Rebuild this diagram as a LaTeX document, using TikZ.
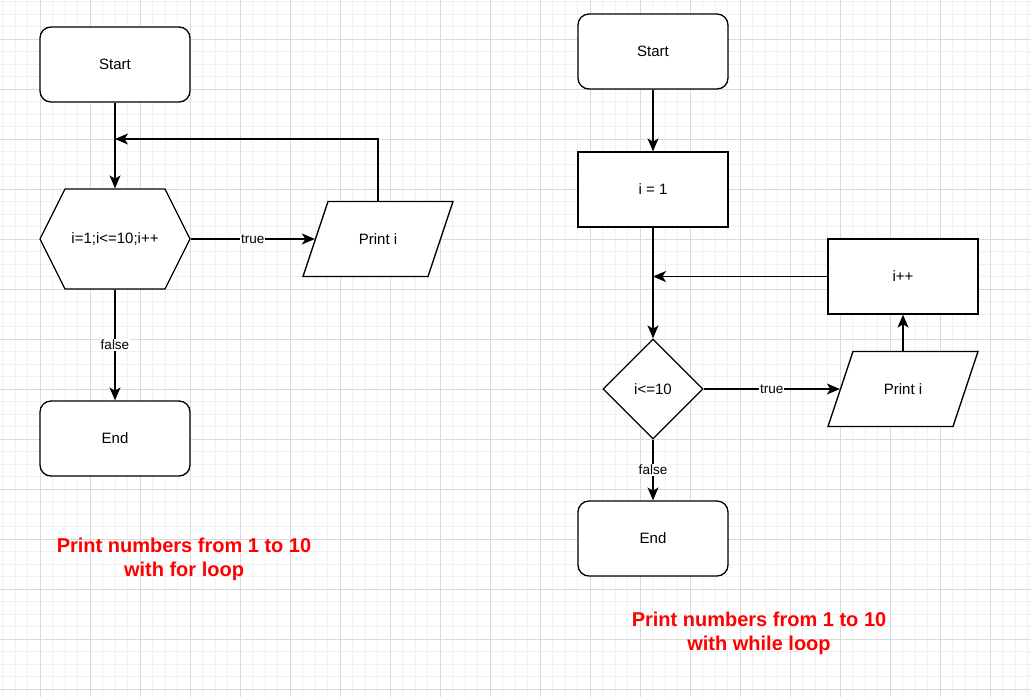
\documentclass[tikz,border=0pt]{standalone}
\usepackage{fontspec}
\setmainfont{Liberation Sans}
\usetikzlibrary{arrows.meta, calc, shapes.geometric}
\definecolor{gridMinor}{RGB}{241,241,241}
\definecolor{gridMajor}{RGB}{218,218,218}
\definecolor{noteRed}{RGB}{255,0,0}

\begin{document}
\begin{tikzpicture}[x=1pt, y=-1pt, line width=1.3pt,
	box/.style={draw, fill=white, minimum width=150pt, minimum height=75pt, inner sep=0pt, font=\fontsize{15}{18}\selectfont},
	terminal/.style={box, rounded corners=11pt},
	decision/.style={box, diamond, minimum width=100pt, minimum height=100pt},
	plain/.style={inner sep=0pt, font=\fontsize{15}{18}\selectfont},
	flow/.style={-{Stealth[length=13pt, width=11pt, inset=3.5pt]}},
	cond/.style={fill=white, inner sep=1pt, font=\fontsize{13.5}{16}\selectfont},
	caption/.style={text=noteRed, align=center, inner sep=0pt, font=\bfseries\fontsize{20}{24}\selectfont}]

	\fill[white] (0,0) rectangle (1031,697);
	\useasboundingbox (0,0) rectangle (1031,697);

	% grid
	\foreach \k in {0,...,82} \draw[gridMinor, line width=1pt] ({2.5+12.5*\k},0) -- ({2.5+12.5*\k},697);
	\foreach \k in {0,...,55} \draw[gridMinor, line width=1pt] (0,{1.5+12.5*\k}) -- (1031,{1.5+12.5*\k});
	\foreach \k in {0,...,19} \draw[gridMajor, line width=1pt] ({40+50*\k},0) -- ({40+50*\k},697);
	\foreach \k in {0,...,13} \draw[gridMajor, line width=1pt] (0,{39+50*\k}) -- (1031,{39+50*\k});

	% for loop
	\node[terminal] (start1) at (115,64.5) {Start};

	\coordinate (loopc) at (115,239);
	\filldraw[fill=white] ($(loopc)+(-75,0)$) -- ($(loopc)+(-50,-50)$) -- ($(loopc)+(50,-50)$) -- ($(loopc)+(75,0)$) -- ($(loopc)+(50,50)$) -- ($(loopc)+(-50,50)$) -- cycle;
	\node[plain, minimum width=150pt, minimum height=100pt] (loop1) at (loopc) {i=1;i<=10;i++};

	\coordinate (printc1) at (378,239);
	\filldraw[fill=white] ($(printc1)+(-75,37.5)$) -- ($(printc1)+(-50,-37.5)$) -- ($(printc1)+(75,-37.5)$) -- ($(printc1)+(50,37.5)$) -- cycle;
	\node[plain, minimum width=125pt, minimum height=75pt] (print1) at (printc1) {Print i};

	\node[terminal] (end1) at (115,438.5) {End};
	\coordinate (back1) at (115,139);

	\draw[flow] (start1.south) -- (loop1.north);
	\draw[flow] (print1.north) |- (back1);
	\draw[flow] (loop1.east) -- node[cond] {true} (print1.west);
	\draw[flow] (loop1.south) -- node[cond] {false} (end1.north);

	% while loop
	\node[terminal] (start2) at (653,51.5) {Start};
	\node[box] (init2) at (653,189.5) {i = 1};
	\node[decision] (test2) at (653,389) {i<=10};
	\node[box] (inc2) at (903,276.5) {i++};

	\coordinate (printc2) at (903,389);
	\filldraw[fill=white] ($(printc2)+(-75,37.5)$) -- ($(printc2)+(-50,-37.5)$) -- ($(printc2)+(75,-37.5)$) -- ($(printc2)+(50,37.5)$) -- cycle;
	\node[plain, minimum width=125pt, minimum height=75pt] (print2) at (printc2) {Print i};

	\node[terminal] (end2) at (653,538.5) {End};
	\coordinate (back2) at (init2.south |- inc2.west);

	\draw[flow] (start2.south) -- (init2.north);
	\draw[flow] (init2.south) -- (test2.north);
	\draw[flow] (inc2.west) -- (back2);
	\draw[flow] (test2.east) -- node[cond] {true} (print2.west);
	\draw[flow] (print2.north) -- (inc2.south);
	\draw[flow] (test2.south) -- node[cond] {false} (end2.north);

	\node[caption] (note1) at (184,559) {Print numbers from 1 to 10\\with for loop};
	\node[caption] (note2) at (759,633) {Print numbers from 1 to 10\\with while loop};

\end{tikzpicture}
\end{document}
